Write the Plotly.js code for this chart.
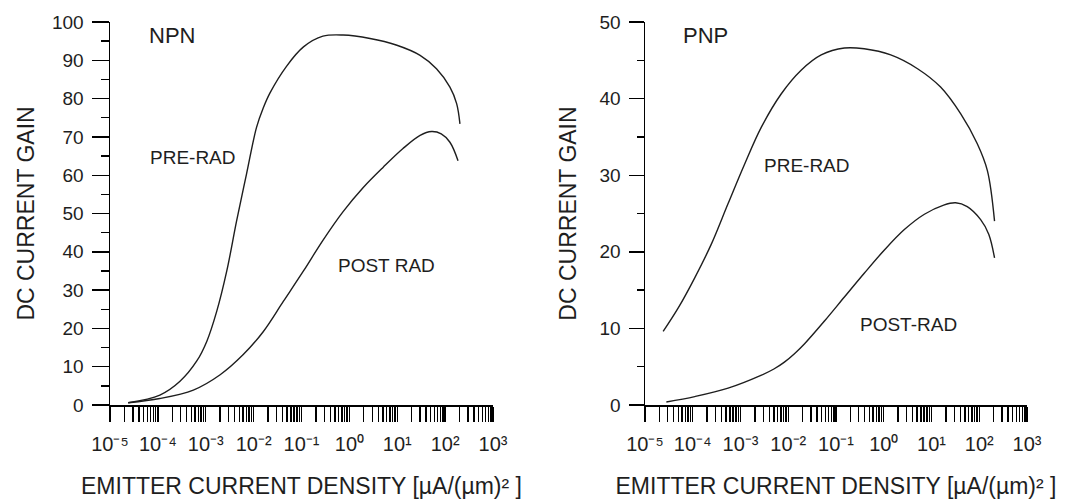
<!DOCTYPE html>
<html>
<head>
<meta charset="utf-8">
<script src="https://cdn.plot.ly/plotly-3.0.1.min.js"></script>
<style>html,body{margin:0;padding:0;background:#fff;}#chart{width:1069px;height:499px;}</style>
</head>
<body>
<div id="chart"></div>
<script>
// ---- Data (emitter current density in µA/µm², DC current gain) ----
const npnPreX  = [2.4e-5, 1.1e-4, 2.9e-4, 6.5e-4, 1.05e-3, 1.7e-3, 2.75e-3, 4.4e-3, 7.1e-3, 0.0115, 0.0158, 0.022, 0.049, 0.11, 0.28, 0.74, 2.7, 9.5, 30, 66, 126, 174, 204];
const npnPreY  = [0.6, 2.6, 6.2, 11.5, 16.6, 24.5, 35, 48, 60.3, 72.5, 77.5, 81.5, 88.5, 93.5, 96.3, 96.6, 95.7, 94, 91.3, 87.8, 83, 78.7, 73.4];
const npnPostX = [2.4e-5, 1.1e-4, 5.5e-4, 2.0e-3, 6.0e-3, 0.016, 0.042, 0.11, 0.28, 0.74, 1.95, 5.1, 13, 30, 52, 83, 126, 186];
const npnPostY = [0.6, 1.7, 3.9, 7.9, 13.1, 19.2, 27.1, 35, 43.0, 50.5, 56.8, 62.1, 66.9, 70.4, 71.4, 70.8, 68.6, 63.8];
const pnpPreX  = [2.4e-5, 5.0e-5, 1.1e-4, 2.45e-4, 5.5e-4, 1.23e-3, 2.75e-3, 7.1e-3, 0.0186, 0.049, 0.15, 0.39, 1.4, 5.1, 15.5, 41, 91, 148, 209];
const pnpPreY  = [9.6, 12.7, 16.6, 21, 26.3, 31.5, 36.3, 40.6, 43.7, 45.7, 46.6, 46.5, 45.7, 43.9, 41.5, 38, 34.1, 30.6, 24];
const pnpPostX = [2.8e-5, 1.1e-4, 5.5e-4, 2.75e-3, 5.0e-3, 8.3e-3, 0.0135, 0.022, 0.058, 0.15, 0.39, 1.02, 2.7, 7.1, 18, 32, 56, 107, 158, 209];
const pnpPostY = [0.4, 1.1, 2.2, 3.9, 4.7, 5.6, 6.7, 8.0, 11.0, 14.1, 17.2, 20.2, 22.9, 24.9, 26.1, 26.4, 25.9, 24.2, 22.3, 19.2];

// tick labels
const decadeExponents = [-5, -4, -3, -2, -1, 0, 1, 2, 3];
const decadeLabels = ['10⁻⁵', '10⁻⁴', '10⁻³', '10⁻²', '10⁻¹', '10⁰', '10¹', '10²', '10³'];
const minorMultipliers = [2, 3, 4, 5, 6, 7, 8, 9];

// ---- build log tick arrays ----
const majorVals = decadeExponents.map(e => Math.pow(10, e));
const minorVals = [];
decadeExponents.slice(0, -1).forEach(e => minorMultipliers.forEach(m => minorVals.push(m * Math.pow(10, e))));

const FONT = 'Liberation Sans, Arial, sans-serif';
const INK = '#1e1e1e';
const lineStyle = {color: INK, width: 1.4, shape: 'spline', smoothing: 1};

const traces = [
  {x: npnPreX,  y: npnPreY,  mode: 'lines', line: lineStyle, xaxis: 'x',  yaxis: 'y',  name: 'NPN PRE-RAD'},
  {x: npnPostX, y: npnPostY, mode: 'lines', line: lineStyle, xaxis: 'x',  yaxis: 'y',  name: 'NPN POST RAD'},
  {x: pnpPreX,  y: pnpPreY,  mode: 'lines', line: lineStyle, xaxis: 'x2', yaxis: 'y2', name: 'PNP PRE-RAD'},
  {x: pnpPostX, y: pnpPostY, mode: 'lines', line: lineStyle, xaxis: 'x2', yaxis: 'y2', name: 'PNP POST-RAD'}
];

function xAxis(domain, anchor) {
  return {
    domain: domain, anchor: anchor, type: 'log', range: [-5, 3],
    tickmode: 'array', tickvals: majorVals, ticktext: decadeLabels,
    ticks: 'outside', ticklen: 15, tickwidth: 1.4, tickcolor: '#000',
    minor: {tickmode: 'array', tickvals: minorVals, ticks: 'outside', ticklen: 15, tickwidth: 1.4, tickcolor: '#000', showgrid: false},
    showline: true, linecolor: '#000', linewidth: 1.5,
    showgrid: false, zeroline: false,
    tickfont: {family: FONT, size: 20, color: INK},
    ticklabelstandoff: 5,
    title: {text: 'EMITTER CURRENT DENSITY [µA/(µm)² ]', font: {family: FONT, size: 23, color: INK}, standoff: 25}
  };
}
function yAxis(range, anchor, ticklen, minorlen, standoff) {
  return {
    domain: [0, 1], anchor: anchor, range: range,
    dtick: 10, ticks: 'outside', ticklen: ticklen, tickwidth: 1.4, tickcolor: '#000',
    minor: {dtick: 5, ticks: 'outside', ticklen: minorlen, tickwidth: 1.4, tickcolor: '#000', showgrid: false},
    showline: true, linecolor: '#000', linewidth: 1.5,
    showgrid: false, zeroline: false,
    tickfont: {family: FONT, size: 19, color: INK},
    ticklabelstandoff: 4,
    title: {text: 'DC CURRENT GAIN', font: {family: FONT, size: 23, color: INK}, standoff: standoff}
  };
}

const annFont = {family: FONT, size: 19, color: INK};
const bigFont = {family: FONT, size: 22, color: INK};
const annotations = [
  {text: 'NPN',      x: -3.71, y: 96.6, xref: 'x',  yref: 'y',  font: bigFont},
  {text: 'PRE-RAD',  x: -3.27, y: 64.7, xref: 'x',  yref: 'y',  font: annFont},
  {text: 'POST RAD', x: 0.78,  y: 36.3, xref: 'x',  yref: 'y',  font: annFont},
  {text: 'PNP',      x: -3.73, y: 48.3, xref: 'x2', yref: 'y2', font: bigFont},
  {text: 'PRE-RAD',  x: -1.60, y: 31.25, xref: 'x2', yref: 'y2', font: annFont},
  {text: 'POST-RAD', x: 0.51,  y: 10.5, xref: 'x2', yref: 'y2', font: annFont}
].map(a => Object.assign({showarrow: false, xanchor: 'center', yanchor: 'middle'}, a));

const layout = {
  width: 1069, height: 499,
  margin: {l: 0, r: 0, t: 22, b: 94},
  paper_bgcolor: '#fff', plot_bgcolor: '#fff',
  showlegend: false,
  font: {family: FONT, color: INK},
  xaxis: xAxis([110 / 1069, 493 / 1069], 'y'),
  yaxis: yAxis([0, 100], 'x', 17, 8, 11),
  xaxis2: xAxis([645 / 1069, 1027 / 1069], 'y2'),
  yaxis2: yAxis([0, 50], 'x2', 15, 7, 16),
  annotations: annotations
};

Plotly.newPlot('chart', traces, layout, {staticPlot: true, displayModeBar: false});
</script>
</body>
</html>
